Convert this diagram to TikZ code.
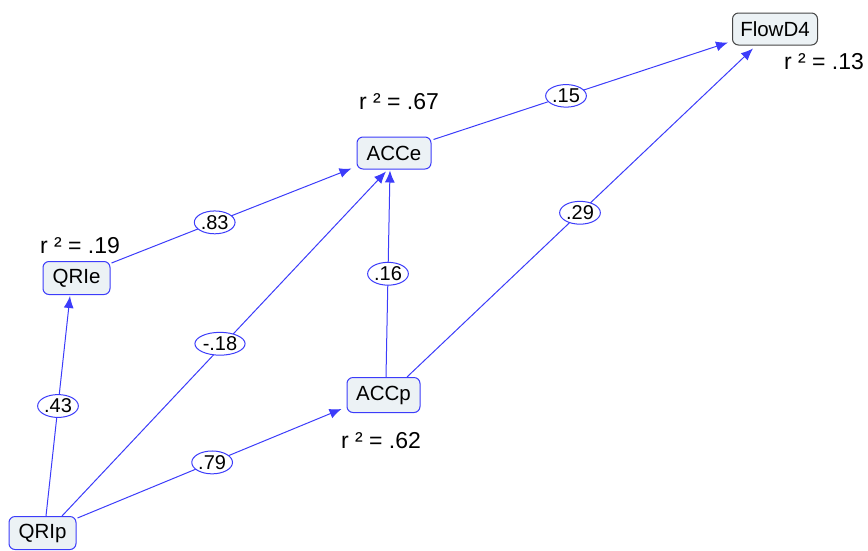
\documentclass[tikz,border=0pt]{standalone}
\usepackage{fontspec}
\setmainfont{Liberation Sans}
\usetikzlibrary{shapes.geometric,arrows.meta,calc}
\definecolor{edgeblue}{RGB}{60,60,250}
\definecolor{boxfill}{RGB}{236,242,245}
\definecolor{boxgray}{RGB}{70,70,70}
\tikzset{
  var/.style={draw=edgeblue, fill=boxfill, rounded corners=6pt, line width=1pt,
    inner sep=0pt, font=\fontsize{20.5}{22}\selectfont},
  grayvar/.style={var, draw=boxgray},
  lab/.style={draw=edgeblue, fill=white, ellipse, inner xsep=0.5pt, inner ysep=1pt, line width=1pt,
    font=\fontsize{20}{22}\selectfont},
  rsq/.style={font=\fontsize{23}{25}\selectfont, inner sep=0pt},
  path/.style={draw=edgeblue, line width=1pt, -{Latex[length=12pt,width=10pt]}}
}
\begin{document}
\begin{tikzpicture}[x=1pt,y=-1pt]
\useasboundingbox (0,0) rectangle (868,550);
\node[grayvar, minimum width=85pt, minimum height=32pt] (F) at (775,29) {FlowD4};
\node[var, minimum width=74pt, minimum height=32pt] (ACCe) at (394,153) {ACCe};
\node[var, minimum width=67pt, minimum height=33pt] (QRIe) at (76.5,278) {QRIe};
\node[var, minimum width=73pt, minimum height=35pt] (ACCp) at (383.5,395) {ACCp};
\node[var, minimum width=67pt, minimum height=33pt] (QRIp) at (42.5,533) {QRIp};

\node[rsq] (rF) at (824,62) {r ² = .13};
\node[rsq] (rACCe) at (399,102) {r ² = .67};
\node[rsq] (rQRIe) at (80,246) {r ² = .19};
\node[rsq] (rACCp) at (381,441) {r ² = .62};

\draw[path] ($(ACCe.north east)+(2,3)$) -- node[lab, pos=0.45] (l1) {.15} ($(F.south west)+(-4,-3)$);
\draw[path] ($(ACCp.north)+(23.5,0)$) -- node[lab, pos=0.5] (l2) {.29} ($(F.south)+(-22,3)$);
\draw[path] ($(QRIe.north east)+(1,2)$) -- node[lab, pos=0.43] (l3) {.83} ($(ACCe.south west)+(-5,-1)$);
\draw[path] ($(ACCp.north)+(2.5,0)$) -- node[lab, pos=0.5] (l4) {.16} ($(ACCe.south)+(-4,1)$);
\draw[path] ($(QRIp.north)+(19.5,0)$) -- node[lab, pos=0.5, xshift=-4pt] (l5) {-.18} ($(ACCe.south)+(-8,2)$);
\draw[path] ($(QRIp.north)+(3.5,0)$) -- node[lab, pos=0.5] (l6) {.43} ($(QRIe.south)+(-6.5,1)$);
\draw[path] ($(QRIp.north east)+(1,2)$) -- node[lab, pos=0.51] (l7) {.79} ($(ACCp.south west)+(-5,-4)$);
\end{tikzpicture}
\end{document}
